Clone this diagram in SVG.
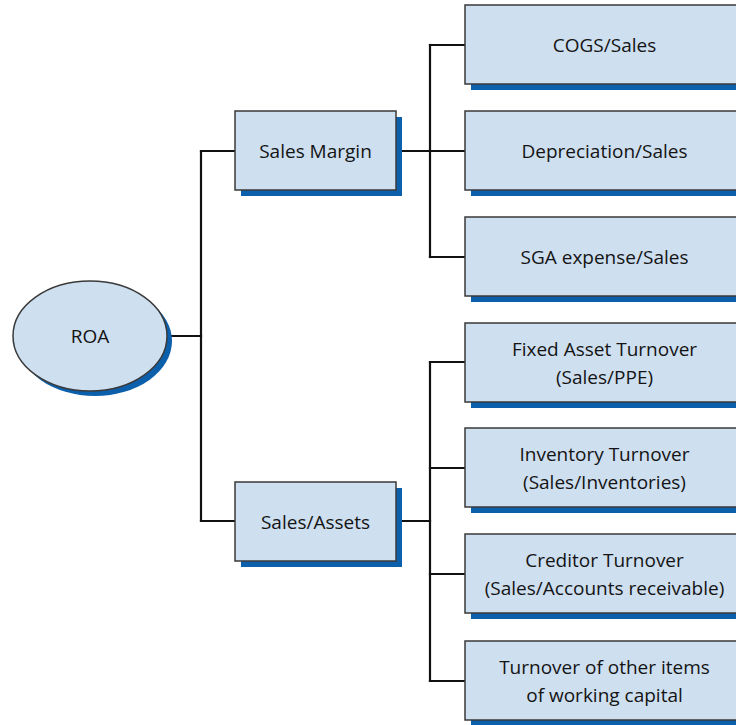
<svg xmlns="http://www.w3.org/2000/svg" width="736" height="725" viewBox="0 0 736 725">
  <style>
    .box { fill: #cedff0; stroke: #3a3a3a; stroke-width: 1.5; }
    .shadow { fill: #0c5faa; }
    .wire { fill: none; stroke: #111; stroke-width: 2.2; stroke-linecap: square; }
    text { font-family: "Open Sans", "Liberation Sans", sans-serif; font-size: 19px; fill: #141414; text-anchor: middle; dominant-baseline: central; }
  </style>
  <rect width="736" height="725" fill="#ffffff"/>

  <!-- tree connectors -->
  <g id="connectors" class="wire">
    <path d="M167 336 H201"/>
    <path d="M201 151 V521"/>
    <path d="M201 151 H235"/>
    <path d="M201 521 H235"/>
    <path d="M396 151 H430"/>
    <path d="M430 45 V257"/>
    <path d="M430 45 H465 M430 151 H465 M430 257 H465"/>
    <path d="M396 521 H430"/>
    <path d="M430 362 V681"/>
    <path d="M430 362 H465 M430 468 H465 M430 574 H465 M430 681 H465"/>
  </g>

  <g id="roa">
    <ellipse class="shadow" cx="95" cy="341" rx="77" ry="55"/>
    <ellipse class="box" cx="90" cy="336" rx="77" ry="55"/>
    <text x="90" y="336">ROA</text>
  </g>

  <g id="sales-margin">
    <rect class="shadow" x="241" y="117" width="161" height="79"/>
    <rect class="box" x="235" y="111" width="161" height="79"/>
    <text x="315.5" y="150.5">Sales Margin</text>
  </g>

  <g id="sales-assets">
    <rect class="shadow" x="241" y="488" width="161" height="79"/>
    <rect class="box" x="235" y="482" width="161" height="79"/>
    <text x="315.5" y="521.5">Sales/Assets</text>
  </g>

  <g id="cogs-sales">
    <rect class="shadow" x="471" y="11" width="290" height="79"/>
    <rect class="box" x="465" y="5" width="290" height="79"/>
    <text x="604.5" y="44.5">COGS/Sales</text>
  </g>

  <g id="depreciation-sales">
    <rect class="shadow" x="471" y="117" width="290" height="79"/>
    <rect class="box" x="465" y="111" width="290" height="79"/>
    <text x="604.5" y="150.5">Depreciation/Sales</text>
  </g>

  <g id="sga-sales">
    <rect class="shadow" x="471" y="223" width="290" height="79"/>
    <rect class="box" x="465" y="217" width="290" height="79"/>
    <text x="604.5" y="256.5">SGA expense/Sales</text>
  </g>

  <g id="fixed-asset-turnover">
    <rect class="shadow" x="471" y="329" width="290" height="79"/>
    <rect class="box" x="465" y="323" width="290" height="79"/>
    <text x="604.5" y="349">Fixed Asset Turnover</text>
    <text x="604.5" y="377">(Sales/PPE)</text>
  </g>

  <g id="inventory-turnover">
    <rect class="shadow" x="471" y="434" width="290" height="79"/>
    <rect class="box" x="465" y="428" width="290" height="79"/>
    <text x="604.5" y="454">Inventory Turnover</text>
    <text x="604.5" y="482">(Sales/Inventories)</text>
  </g>

  <g id="creditor-turnover">
    <rect class="shadow" x="471" y="540" width="290" height="79"/>
    <rect class="box" x="465" y="534" width="290" height="79"/>
    <text x="604.5" y="560">Creditor Turnover</text>
    <text x="604.5" y="588">(Sales/Accounts receivable)</text>
  </g>

  <g id="working-capital-turnover">
    <rect class="shadow" x="471" y="647" width="290" height="79"/>
    <rect class="box" x="465" y="641" width="290" height="79"/>
    <text x="604.5" y="667">Turnover of other items</text>
    <text x="604.5" y="695">of working capital</text>
  </g>
</svg>
